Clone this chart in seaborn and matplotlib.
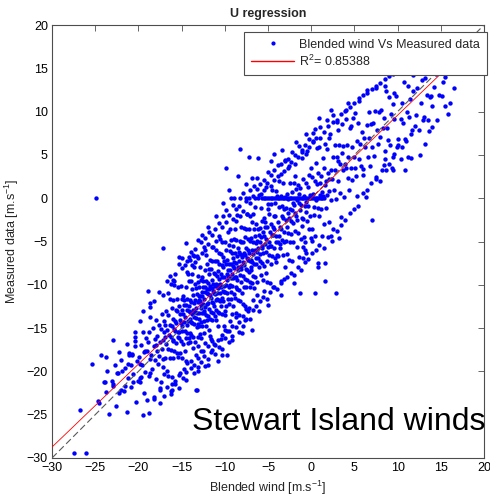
import numpy as np
import pandas as pd
import seaborn as sns
import matplotlib.pyplot as plt
from matplotlib.lines import Line2D

# ---- values ----
# main cloud, grouped by 1 m/s bins of blended wind
blended = [
    -23.8, -23.4, -23.1,
    -22.9, -22.6, -22.4, -22.2, -22.0,
    -21.9, -21.7, -21.5, -21.3, -21.2, -21.05,
    -20.9, -20.8, -20.7, -20.6, -20.4, -20.3, -20.2, -20.05,
    -19.95, -19.8, -19.7, -19.6, -19.5, -19.4, -19.3, -19.2, -19.1, -19.0,
    -18.95, -18.85, -18.75, -18.65, -18.55, -18.45, -18.35, -18.25, -18.2, -18.1, -18.05, -18.0, -17.98,
    -17.95, -17.9, -17.8, -17.75, -17.65, -17.6, -17.5, -17.45, -17.35, -17.3, -17.25, -17.2, -17.15, -17.1, -17.07, -17.05, -17.02,
    -16.96, -16.9, -16.87, -16.81, -16.77, -16.7, -16.66, -16.61, -16.55, -16.52, -16.47, -16.4, -16.36, -16.31, -16.27, -16.2, -16.16, -16.12, -16.08, -16.05, -16.03, -16.01,
    -15.98, -15.95, -15.91, -15.88, -15.84, -15.8, -15.77, -15.73, -15.69, -15.66, -15.62, -15.58, -15.55, -15.51, -15.47, -15.44, -15.4, -15.36, -15.32, -15.29, -15.25, -15.21, -15.17, -15.14, -15.1, -15.07, -15.04, -15.01,
    -14.99, -14.96, -14.93, -14.9, -14.87, -14.84, -14.8, -14.77, -14.74, -14.71, -14.68, -14.65, -14.62, -14.59, -14.56, -14.53, -14.5, -14.47, -14.44, -14.41, -14.38, -14.35, -14.32, -14.29, -14.26, -14.23, -14.2, -14.17, -14.14, -14.11, -14.08, -14.06, -14.04, -14.02,
    -13.98, -13.95, -13.93, -13.9, -13.86, -13.84, -13.81, -13.78, -13.75, -13.73, -13.7, -13.67, -13.64, -13.61, -13.58, -13.55, -13.53, -13.5, -13.47, -13.44, -13.41, -13.38, -13.35, -13.33, -13.3, -13.27, -13.24, -13.21, -13.18, -13.15, -13.13, -13.1, -13.08, -13.06, -13.05, -13.03, -13.02, -13.01,
    -12.99, -12.96, -12.94, -12.91, -12.89, -12.86, -12.84, -12.81, -12.79, -12.76, -12.74, -12.71, -12.69, -12.66, -12.64, -12.61, -12.59, -12.56, -12.54, -12.51, -12.49, -12.46, -12.44, -12.41, -12.39, -12.36, -12.34, -12.31, -12.29, -12.26, -12.24, -12.21, -12.19, -12.16, -12.14, -12.11, -12.09, -12.06, -12.04, -12.02,
    -11.98, -11.96, -11.93, -11.91, -11.88, -11.86, -11.83, -11.81, -11.78, -11.76, -11.73, -11.71, -11.68, -11.66, -11.63, -11.61, -11.58, -11.56, -11.53, -11.51, -11.48, -11.46, -11.43, -11.41, -11.38, -11.36, -11.33, -11.31, -11.28, -11.26, -11.23, -11.21, -11.18, -11.16, -11.13, -11.11, -11.08, -11.06, -11.03, -11.01,
    -10.99, -10.97, -10.94, -10.92, -10.89, -10.87, -10.84, -10.82, -10.79, -10.77, -10.74, -10.72, -10.69, -10.67, -10.64, -10.62, -10.59, -10.57, -10.54, -10.52, -10.49, -10.47, -10.44, -10.42, -10.39, -10.37, -10.34, -10.32, -10.29, -10.27, -10.24, -10.22, -10.19, -10.17, -10.14, -10.12, -10.09, -10.07, -10.04, -10.02,
    -9.98, -9.95, -9.93, -9.9, -9.87, -9.85, -9.82, -9.79, -9.77, -9.74, -9.71, -9.69, -9.66, -9.63, -9.61, -9.58, -9.55, -9.53, -9.5, -9.47, -9.45, -9.42, -9.39, -9.37, -9.34, -9.31, -9.29, -9.26, -9.23, -9.21, -9.18, -9.15, -9.13, -9.1, -9.07, -9.05, -9.03, -9.01,
    -8.98, -8.95, -8.92, -8.9, -8.87, -8.84, -8.81, -8.79, -8.76, -8.73, -8.7, -8.68, -8.65, -8.62, -8.59, -8.57, -8.54, -8.51, -8.48, -8.46, -8.43, -8.4, -8.37, -8.35, -8.32, -8.29, -8.26, -8.24, -8.21, -8.18, -8.15, -8.13, -8.1, -8.07, -8.04, -8.02,
    -7.98, -7.95, -7.92, -7.89, -7.86, -7.83, -7.8, -7.77, -7.74, -7.71, -7.68, -7.65, -7.62, -7.59, -7.56, -7.53, -7.5, -7.47, -7.44, -7.41, -7.38, -7.35, -7.32, -7.29, -7.26, -7.23, -7.2, -7.17, -7.14, -7.11, -7.08, -7.06, -7.04, -7.02,
    -6.98, -6.95, -6.92, -6.89, -6.86, -6.83, -6.8, -6.77, -6.74, -6.71, -6.68, -6.65, -6.62, -6.59, -6.56, -6.53, -6.5, -6.46, -6.43, -6.4, -6.37, -6.34, -6.31, -6.28, -6.25, -6.22, -6.19, -6.16, -6.12, -6.09, -6.06, -6.03,
    -5.98, -5.95, -5.91, -5.88, -5.85, -5.81, -5.78, -5.75, -5.71, -5.68, -5.65, -5.61, -5.58, -5.55, -5.51, -5.48, -5.45, -5.41, -5.38, -5.35, -5.31, -5.28, -5.25, -5.21, -5.18, -5.15, -5.11, -5.08, -5.05, -5.02,
    -4.97, -4.93, -4.9, -4.86, -4.82, -4.79, -4.75, -4.71, -4.68, -4.64, -4.6, -4.57, -4.53, -4.49, -4.46, -4.42, -4.38, -4.35, -4.31, -4.27, -4.24, -4.2, -4.16, -4.13, -4.09, -4.05, -4.02,
    -3.98, -3.94, -3.9, -3.86, -3.82, -3.78, -3.74, -3.7, -3.66, -3.62, -3.58, -3.54, -3.5, -3.46, -3.42, -3.38, -3.34, -3.3, -3.26, -3.22, -3.18, -3.14, -3.1, -3.06, -3.02,
    -2.97, -2.93, -2.89, -2.84, -2.8, -2.76, -2.71, -2.67, -2.63, -2.58, -2.54, -2.5, -2.45, -2.41, -2.37, -2.32, -2.28, -2.24, -2.19, -2.15, -2.11, -2.06, -2.02,
    -1.97, -1.92, -1.88, -1.83, -1.78, -1.74, -1.69, -1.64, -1.6, -1.55, -1.5, -1.45, -1.4, -1.36, -1.31, -1.26, -1.21, -1.17, -1.12, -1.07, -1.02,
    -0.97, -0.92, -0.86, -0.81, -0.76, -0.71, -0.65, -0.6, -0.55, -0.5, -0.44, -0.39, -0.34, -0.28, -0.23, -0.18, -0.13, -0.08, -0.03,
    0.04, 0.1, 0.17, 0.23, 0.29, 0.36, 0.42, 0.48, 0.55, 0.61, 0.67, 0.74, 0.8, 0.86, 0.92, 0.97,
    1.03, 1.1, 1.17, 1.24, 1.31, 1.38, 1.45, 1.52, 1.59, 1.66, 1.73, 1.8, 1.87, 1.95,
    2.04, 2.11, 2.19, 2.26, 2.34, 2.41, 2.49, 2.56, 2.64, 2.71, 2.79, 2.86, 2.94,
    3.05, 3.13, 3.21, 3.29, 3.38, 3.46, 3.54, 3.63, 3.71, 3.79, 3.87, 3.95,
    4.04, 4.13, 4.22, 4.31, 4.4, 4.5, 4.59, 4.68, 4.77, 4.86, 4.95,
    5.05, 5.15, 5.25, 5.35, 5.45, 5.55, 5.65, 5.75, 5.85, 5.95,
    6.04, 6.14, 6.24, 6.34, 6.44, 6.54, 6.64, 6.74, 6.84, 6.94,
    7.05, 7.16, 7.27, 7.38, 7.49, 7.6, 7.71, 7.82, 7.93,
    8.06, 8.18, 8.3, 8.42, 8.54, 8.66, 8.78, 8.9,
    9.04, 9.16, 9.28, 9.4, 9.52, 9.64, 9.76, 9.88,
    10.07, 10.2, 10.34, 10.48, 10.62, 10.76, 10.9,
    11.06, 11.2, 11.34, 11.48, 11.62, 11.76, 11.9,
    12.1, 12.3, 12.5, 12.7, 12.9,
    13.15, 13.4, 13.65, 13.9,
    14.2, 14.5, 14.8,
    15.3, 15.9,
]
measured = [
    -22.4, -24.9, -21.1,
    -21.5, -24.0, -20.2, -22.5, -18.7,
    -20.0, -22.3, -19.6, -24.7, -20.8, -17.9,
    -19.3, -21.8, -18.0, -20.3, -16.5, -23.5, -18.8, -21.1,
    -18.3, -20.8, -17.0, -19.3, -15.5, -22.5, -17.8, -20.1, -16.2, -23.3,
    -17.7, -16.6, -20.5, -13.7, -18.1, -19.7, -15.0, -22.9, -17.1, -18.7, -16.3, -20.9, -14.1,
    -16.9, -17.7, -15.9, -19.2, -14.6, -18.2, -16.6, -21.9, -15.1, -17.4, -13.4, -19.5, -16.4, -18.6, -15.4, -20.3, -14.2,
    -16.0, -18.4, -14.6, -16.8, -13.0, -19.9, -15.2, -17.4, -13.5, -20.5, -15.8, -14.6, -18.5, -11.6, -16.0, -17.5, -12.7, -20.7, -14.8, -16.4, -13.9, -18.5,
    -11.7, -16.5, -15.1, -10.0, -17.6, -14.2, -15.3, -21.1, -12.9, -16.7, -14.4, -11.6, -17.9, -13.0, -15.4, -18.3, -10.2, -16.0, -15.4, -12.4, -16.2, -14.1, -17.9, -13.4, -10.1, -16.5, -14.4, -14.8,
    -11.6, -18.4, -12.9, -15.3, -11.3, -16.8, -13.4, -19.7, -12.3, -14.3, -11.7, -17.7, -13.7, -7.7, -15.3, -16.2, -12.3, -18.8, -10.3, -14.6, -12.9, -15.6, -11.6, -16.7, -8.7, -14.2, -12.5, -16.1, -13.0, -9.6, -13.1, -15.6, -11.7, -14.0,
    -16.6, -9.6, -14.3, -12.0, -15.8, -8.7, -13.4, -14.4, -10.5, -17.3, -12.9, -11.2, -16.0, -7.9, -13.7, -12.1, -14.5, -9.9, -16.6, -11.8, -13.1, -18.1, -10.4, -13.8, -12.7, -6.7, -14.9, -11.1, -13.2, -16.0, -9.7, -14.5, -12.0, -9.0, -17.1, -11.3, -11.8, -14.8,
    -13.2, -10.2, -13.9, -11.9, -15.7, -11.3, -7.9, -14.3, -12.3, -12.7, -9.4, -16.2, -10.8, -13.2, -9.1, -14.7, -11.3, -17.6, -10.2, -12.2, -9.6, -15.6, -11.6, -5.6, -13.2, -14.2, -10.2, -16.7, -8.3, -12.6, -10.8, -13.5, -9.6, -14.7, -6.6, -12.2, -10.5, -14.1, -11.0, -7.6,
    -11.1, -13.6, -9.8, -12.1, -8.2, -15.2, -10.5, -12.8, -8.8, -15.9, -11.2, -10.1, -13.9, -7.1, -11.5, -13.1, -8.2, -16.3, -10.4, -12.0, -9.5, -14.1, -7.3, -12.1, -10.7, -5.6, -13.3, -9.9, -10.9, -16.8, -8.6, -12.4, -10.1, -7.3, -13.6, -8.8, -11.1, -14.1, -6.0, -11.8,
    -9.9, -12.9, -9.0, -11.0, -7.2, -11.6, -14.8, -8.4, -10.4, -10.0, -13.1, -6.3, -11.7, -9.3, -13.2, -7.6, -11.0, -4.7, -11.9, -9.9, -12.5, -6.5, -10.3, -16.3, -8.7, -7.7, -11.5, -5.0, -13.4, -9.1, -10.7, -8.0, -11.9, -6.8, -14.7, -9.1, -10.8, -7.2, -10.1, -13.5,
    -10.8, -5.0, -13.0, -10.0, -7.6, -12.4, -6.0, -8.8, -11.0, -7.1, -15.3, -9.4, -8.3, -11.6, -3.9, -9.0, -10.3, -5.4, -12.2, -7.6, -10.0, -8.3, -14.2, -6.1, -10.8, -9.2, -4.8, -11.6, -7.6, -8.7, -13.4, -6.3, -10.1, -7.8, -12.5, -5.5, -9.2, -6.9,
    -4.7, -8.1, -11.1, -7.4, -9.1, -3.5, -11.5, -6.3, -10.2, -7.5, -9.1, -4.8, -13.2, -6.7, -10.5, -9.5, -1.9, -7.9, -11.7, -5.7, -8.3, -6.2, -13.5, -7.2, -10.6, -4.9, -8.9, -6.5, -11.9, -5.0, -8.2, -7.8, -9.7, -3.3, -6.6, -11.0,
    -6.8, -9.0, -5.1, -12.2, -7.4, -6.3, -10.2, -3.4, -7.7, -9.3, -4.5, -12.5, -6.6, -8.2, -5.7, -10.3, -3.5, -8.3, -6.9, -1.8, -9.5, -6.0, -7.1, -13.0, -4.7, -8.5, -6.3, -3.5, -9.7, -4.9, -7.3, -10.2, -2.1, -7.9,
    -7.1, -4.6, -8.3, -6.0, -9.8, -2.8, -7.4, -5.1, -9.0, -1.8, -6.5, -7.6, -3.6, -10.4, -6.0, -4.4, -9.1, -1.0, -6.9, -5.2, -7.6, -3.0, -9.7, -4.9, -6.2, -11.2, -3.5, -6.9, -5.7, 0.4, -8.0, -4.2,
    -6.4, -3.4, -7.2, -5.1, -8.9, -4.5, -1.1, -7.5, -5.5, -5.8, -2.6, -9.4, -3.9, -6.3, -2.3, -7.8, -4.4, -10.7, -3.3, -5.3, -2.7, -8.6, -4.7, 1.3, -6.2, -7.2, -3.3, -9.7, -1.3, -5.6,
    -0.7, -5.0, -6.6, -1.8, -9.8, -3.9, -5.5, -3.0, -7.6, -0.7, -5.5, -4.2, 1.0, -6.7, -3.3, -4.3, -10.2, -2.0, -5.7, -3.5, -0.6, -6.9, -2.1, -4.4, -7.4, 0.8, -5.0,
    -6.6, 0.2, -5.1, -2.7, -6.7, -1.0, -4.4, 2.0, -5.3, -3.3, -5.8, 0.3, -3.6, -9.6, -2.0, -0.9, -4.8, 1.8, -6.6, -2.3, -3.9, -1.2, -5.0, 0.1, -7.9,
    -2.5, -4.9, -1.1, -3.3, 0.5, -6.4, -1.7, -4.0, -0.1, -7.1, -2.3, -1.2, -5.0, 1.8, -2.6, -4.1, 0.7, -7.3, -1.4, -2.9, -0.5, -5.0, 1.8,
    -0.8, 2.6, -3.8, -1.7, -2.1, 1.1, -5.6, -0.2, -2.5, 1.5, -4.0, -0.6, -6.8, 0.5, -1.4, 1.2, -4.7, -0.8, 5.3, -2.3, -3.2,
    -2.4, 2.2, -4.5, 0.3, -0.9, -6.0, 1.8, -1.6, -0.4, 5.5, -2.6, 1.3, -0.9, -3.6, 2.7, -2.0, 0.4, 3.5, -4.6,
    2.4, -3.5, 0.5, 6.5, -1.0, -1.9, 2.0, -4.4, 4.1, -0.2, 1.6, -1.1, 2.9, -2.1, 5.9, 0.4,
    1.7, -1.3, 2.6, 0.7, 4.6, 0.2, -3.0, 3.5, 1.5, 2.0, -1.1, 5.7, 0.4, 2.9,
    0.8, 2.2, 7.4, -0.2, 3.2, 2.2, -3.6, 4.7, 0.9, 3.2, 6.1, -0.1, 4.7,
    4.3, 2.0, 6.1, 0.6, 4.0, -2.2, 5.2, 3.3, 6.0, 0.1, 4.0, 10.1,
    3.5, 6.1, 2.3, 4.7, 1.0, 8.1, 3.5, 5.9, 2.1, 9.3, 4.7,
    3.5, 2.6, 6.6, 0.2, 8.7, 4.5, 6.3, 3.7, 7.7, 2.7,
    3.4, 6.9, 5.9, 0.1, 8.4, 4.7, 7.0, 9.9, 3.7, 8.6,
    5.9, 8.7, 4.9, 10.1, 2.2, 7.9, 6.3, 10.0, 7.1,
    10.2, 3.2, 8.1, 9.3, 5.5, 12.4, 8.1, 6.7,
    11.7, 6.2, 9.7, 3.5, 10.9, 9.1, 11.8, 5.9,
    6.8, 15.0, 9.2, 11.0, 8.7, 13.4, 6.8,
    9.9, 13.0, 9.4, 11.5, 7.9, 12.4, 14.6,
    9.6, 12.7, 14.6, 11.0, 9.0,
    13.9, 11.9, 15.9, 11.8,
    12.8, 14.3, 11.9,
    13.4, 15.2,
]

# outer fringe of the cloud (above and below the dense band)
fringe_blended = [
    -19.5, -19.45, -18.7, -18.75, -18.2, -18.15, -17.6, -17.55, -17.1, -17.05,
    -16.7, -16.65, -16.6, -16.2, -16.25, -16.15, -15.8, -15.75, -15.85, -15.3, -15.35, -15.25,
    -14.9, -14.85, -14.95, -14.4, -14.45, -14.35, -14.42, -13.9, -13.95, -13.85, -13.88,
    -13.5, -13.55, -13.45, -13.52, -13.1, -13.15, -13.05, -13.12, -12.7, -12.75, -12.65, -12.72,
    -12.3, -12.35, -12.25, -12.32, -11.9, -11.95, -11.85, -11.92, -11.5, -11.55, -11.45, -11.52,
    -11.1, -11.15, -11.05, -11.12, -10.7, -10.75, -10.65, -10.72, -10.3, -10.35, -10.25, -10.32,
    -9.9, -9.95, -9.85, -9.92, -9.5, -9.55, -9.45, -9.52, -9.1, -9.15, -9.05, -9.12,
    -8.7, -8.75, -8.65, -8.72, -8.3, -8.35, -8.25, -8.32, -7.9, -7.95, -7.85, -7.92,
    -7.5, -7.55, -7.45, -7.52, -7.1, -7.15, -7.05, -7.12, -6.7, -6.75, -6.65, -6.72,
    -6.3, -6.35, -6.25, -5.9, -5.95, -5.85, -5.5, -5.55, -5.45, -5.1, -5.15, -5.05,
    -4.7, -4.75, -4.65, -4.3, -4.35, -4.25, -3.9, -3.95, -3.85, -3.5, -3.55, -3.45,
    -3.1, -3.15, -3.05, -2.7, -2.75, -2.65, -2.3, -2.35, -2.25, -1.9, -1.95, -1.85,
    -1.5, -1.55, -1.45, -1.1, -1.15, -1.05, -0.7, -0.75, -0.65, -0.3, -0.35, -0.25,
    0.2, 0.15, 0.25, 0.6, 0.55, 0.65, 1.0, 0.95, 1.05, 1.5, 1.45, 1.55, 2.0, 1.95, 2.05,
    2.5, 2.45, 2.55, 3.0, 2.95, 3.05, 3.5, 3.45, 3.55, 4.0, 3.95, 4.05, 4.5, 4.45, 4.55,
    5.0, 4.95, 5.05, 5.5, 5.45, 6.0, 5.95, 6.5, 6.45, 7.0, 6.95, 7.5, 7.45, 8.0, 7.95,
    8.5, 8.45, 9.0, 8.95, 9.5, 9.45, 10.0, 10.5, 11.0, 11.5, 12.0, 12.5, 13.0, 13.5, 14.0,
]
fringe_measured = [
    -13.0, -25.0, -12.6, -24.8, -11.9, -23.2, -10.8, -23.6, -11.2, -22.8,
    -9.6, -21.8, -10.9, -9.9, -22.6, -21.4, -8.7, -21.4, -9.6, -7.6, -21.9, -20.4,
    -8.1, -20.8, -6.9, -7.3, -20.1, -19.0, -8.5, -6.2, -19.6, -7.7, -18.8,
    -5.9, -19.3, -7.4, -20.2, -6.9, -18.5, -4.8, -19.9, -5.0, -18.9, -6.3, -17.6,
    -4.6, -18.2, -6.0, -19.4, -5.3, -17.1, -3.9, -18.6, -4.2, -17.8, -5.6, -16.5,
    -3.6, -16.9, -4.9, -18.0, -2.9, -16.4, -4.4, -17.2, -3.3, -15.8, -2.1, -17.4,
    -2.7, -16.1, -1.4, -15.2, -1.9, -15.3, -3.5, -16.6, -2.4, -14.8, -0.8, -15.9,
    -1.2, -14.9, -2.6, -13.7, -0.9, -14.3, -2.0, -15.4, -1.5, -13.6, 0.6, -14.7,
    -0.3, -13.9, -1.8, -12.8, 0.9, -12.7, -0.6, -14.0, 0.2, -12.9, 1.4, -11.8,
    1.1, -12.4, 2.3, 1.6, -11.9, 0.5, 2.1, -11.4, 1.0, 1.8, -11.6, 3.0,
    2.7, -10.8, 1.4, 3.3, -10.2, 2.1, 2.6, -10.5, 3.8, 3.9, -9.8, 2.8,
    3.1, -9.3, 4.4, 4.5, -9.1, 3.5, 4.2, -8.6, 5.3, 5.0, -8.9, 3.9,
    4.8, -7.9, 6.0, 5.6, -8.3, 4.6, 6.2, -7.4, 5.1, 5.9, -7.0, 6.8,
    6.6, -6.3, 7.5, 7.0, -6.0, 5.8, 6.9, -5.4, 8.2, 7.7, -5.8, 6.3, 8.3, -4.5, 7.0,
    8.8, -4.9, 9.6, 9.0, -3.8, 7.9, 9.7, -3.1, 8.6, 10.2, -2.5, 9.1, 10.5, -1.7, 8.3,
    11.0, -1.2, 9.8, 11.2, -0.9, 11.9, 0.6, 12.2, 0.9, 12.6, 1.7, 13.0, 2.4, 13.3, 2.0,
    13.8, 3.8, 14.1, 4.0, 14.3, 4.8, 6.1, 5.9, 6.6, 7.4, 8.3, 7.9, 9.4, 9.0, 10.7,
]

# scattered points away from the main cloud
stray_blended = [
    -24.9, -27.5, -26.1, -26.8, -24.7, -24.6, -25.4, -24.3, -23.7, -22.9, -23.6, -23.9,
    -22.7, -22.9, -22.3, -21.3, -21.2, -21.6, -22.0, -22.5, -21.1, -20.6, -20.4, -19.8,
    -19.7, -19.8, -20.4, -20.7, -18.8, -19.2, -18.6, -18.6, -17.4, -17.5, -16.2, -15.2,
    -13.3, -24.0, -14.45, -17.15, -16.3, -18.9, -13.7, -14.0, -16.1, -13.25, -10.3, -9.8,
    -13.1, -12.4, -7.7, -6.9, -18.7, -19.8, -20.4, -14.1, -13.6,
    2.25, 1.86, 0.47, -8.24, -7.2, -6.2, -9.9, -8.5, -6.9, -7.5, -4.3, -3.4, -4.6,
    -1.3, 0.4, 2.87, 1.63, 0.75, 0.75, 1.56, 1.28, 2.33, 3.2, -0.9, -0.57, -1.0, -0.68,
    0.05, 7.0, 2.06,
    16.5, 15.5, 15.5, 15.8, 13.6, 13.75, 11.8, 12.8, 8.5, 9.6, 8.7, 9.5, 10.9, 11.6,
    11.2, 8.5, 9.6, 10.4,
    -11.5, -9.2, -8.0, -6.0, -5.0, -3.5, -2.0, -12.0, -14.5, -10.8,
    -12.0, -11.0, -10.2, -9.5, -12.6, -15.3, -16.0, -3.0, -1.8, -0.6, 0.9, -2.6, 3.0,
    4.3, 5.5, 6.5, 7.5, 14.6, 12.6, 13.2, 14.0, 15.1, 16.1,
]
stray_measured = [
    0.0, -29.4, -29.4, -24.5, -23.4, -23.6, -19.1, -18.1, -18.3, -16.4, -20.0, -21.2,
    -19.3, -21.7, -17.8, -16.8, -19.2, -21.7, -22.1, -20.2, -18.1, -21.2, -17.1, -21.2,
    -20.7, -19.1, -16.0, -18.1, -15.5, -17.7, -18.6, -20.2, -21.2, -22.1, -22.3, -20.2,
    -22.2, -21.2, -5.2, -5.75, -8.95, -10.75, -6.6, -7.1, -22.1, -22.1, -18.1, -18.1,
    -19.5, -13.0, -14.1, -15.2, -12.1, -14.2, -15.4, -6.8, -6.7,
    10.2, 9.0, 8.0, 5.65, 4.8, 4.6, 3.45, 2.6, 2.3, 1.6, 5.1, 5.6, 4.3,
    -10.9, -10.9, -11.0, -9.6, -7.5, -8.0, -7.5, -4.4, -4.4, -4.6, -6.9, -6.3, -5.6, -5.1,
    -4.9, -2.5, -2.8,
    12.7, 14.0, 10.7, 9.7, 7.8, 11.7, 14.2, 13.7, 13.0, 12.2, 3.3, 3.25, 3.25, 4.6,
    4.8, 4.5, 5.1, 4.5,
    -17.5, -16.4, -15.6, -13.0, -12.3, -11.2, -9.8, -19.3, -21.0, -18.8,
    -3.3, -2.0, -0.5, 1.0, -4.2, -6.8, -9.5, 4.3, 6.5, 7.4, 9.3, 3.7, 8.8,
    11.0, 11.6, 12.5, 12.7, 9.0, 5.0, 6.3, 8.2, 11.8, 11.0,
]

# run of zero readings in the measured data
calm_blended = [
    -9.3, -8.9, -8.2, -7.5, -7.2, -6.5, -6.1,
    -5.7, -5.5, -5.3, -5.1, -4.9, -4.7, -4.5, -4.3, -4.1, -3.9, -3.7, -3.5, -3.3, -3.1,
    -2.9, -2.7, -2.5, -2.3, -2.1, -1.9, -1.7, -1.5, -1.3, -1.1, -0.9, -0.7, -0.5, -0.3,
    -0.1, 0.1, 0.3, 0.5, 0.7, 0.9, 1.1, 1.3, 1.5,
]
calm_measured = [
    0.0, 0.0, 0.0, 0.0, 0.0, 0.0, 0.0,
    0.0, 0.0, 0.0, 0.0, 0.0, 0.0, 0.0, 0.0, 0.0, 0.0, 0.0, 0.0, 0.0, 0.0,
    0.0, 0.0, 0.0, 0.0, 0.0, 0.0, 0.0, 0.0, 0.0, 0.0, 0.0, 0.0, 0.0, 0.0,
    0.0, 0.0, 0.0, 0.0, 0.0, 0.0, 0.0, 0.0, 0.0,
]

# linear fit shown in red
fit_slope = 0.958
fit_intercept = 0.0
r_squared = 0.85388

axis_ticks = [-30, -25, -20, -15, -10, -5, 0, 5, 10, 15, 20]


if __name__ == '__main__':
    sns.set_theme(style='white')
    plt.rcParams['font.family'] = ['Liberation Sans', 'DejaVu Sans']
    plt.rcParams['mathtext.default'] = 'regular'

    df = pd.DataFrame({
        'blended': blended + fringe_blended + stray_blended + calm_blended,
        'measured': measured + fringe_measured + stray_measured + calm_measured,
    })

    fig = plt.figure(figsize=(4.9, 5.01), dpi=100)
    ax = fig.add_axes([52 / 490, 43 / 501, 432 / 490, 433 / 501])

    sns.scatterplot(data=df, x='blended', y='measured', ax=ax,
                    color='#0000ff', marker='o', s=10, linewidth=0, zorder=2)

    # 1:1 reference and regression line
    ax.axline((0, 0), slope=1, color='0.35', lw=0.8, linestyle=(0, (6, 3)), zorder=3)
    ax.axline((0, fit_intercept), slope=fit_slope, color='#ff0000', lw=0.6, zorder=4)

    ax.set_xlim(axis_ticks[0], axis_ticks[-1])
    ax.set_ylim(axis_ticks[0], axis_ticks[-1])
    ax.set_xticks(axis_ticks)
    ax.set_yticks(axis_ticks)
    ax.tick_params(direction='in', top=True, right=True, length=4, width=0.6,
                   color='0.3', labelsize=9, labelcolor='black', pad=3)
    for sp in ax.spines.values():
        sp.set_color('0.3')
        sp.set_linewidth(0.8)

    ax.set_xlabel('Blended wind [m.s$^{-1}$]', fontsize=9, labelpad=3)
    ax.set_ylabel('Measured data [m.s$^{-1}$]', fontsize=9, labelpad=4)
    ax.set_title('U regression', fontsize=9, fontweight='bold', pad=6)

    handles = [
        Line2D([], [], marker='.', color='#0000ff', linestyle='none', markersize=4),
        Line2D([], [], color='#ff0000', lw=1.0),
    ]
    leg = ax.legend(handles, ['Blended wind Vs Measured data', 'R$^2$= {0}'.format(r_squared)],
                    loc='upper right', bbox_to_anchor=(1.006, 0.984), borderaxespad=0,
                    fontsize=9, frameon=True, fancybox=False, framealpha=1,
                    edgecolor='0.3', handlelength=3.4, handletextpad=0.4,
                    borderpad=0.55, labelspacing=0.2)
    leg.get_frame().set_linewidth(0.8)

    ax.text(0.324, 0.065, 'Stewart Island winds', transform=ax.transAxes,
            fontsize=23, va='baseline', ha='left', color='black', zorder=5)

    plt.savefig('out.png', dpi=100)
    plt.close()
